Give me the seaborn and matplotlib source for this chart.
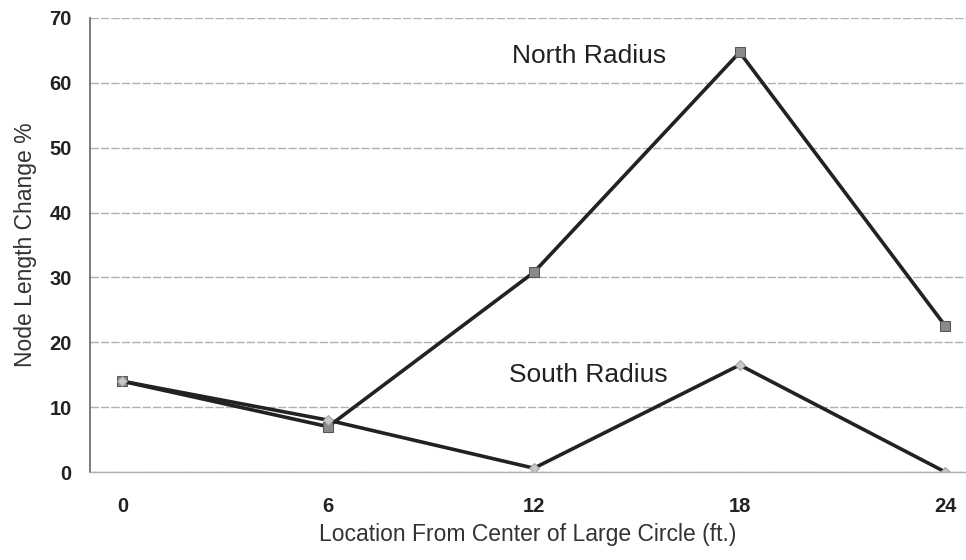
import pandas as pd
import seaborn as sns
import matplotlib.pyplot as plt

LOCATIONS = [0, 6, 12, 18, 24]
NORTH_VALUES = [14.0, 7.0, 30.8, 64.7, 22.5]
SOUTH_VALUES = [14.0, 8.0, 0.6, 16.5, 0.0]
SERIES = ["North Radius", "South Radius"]
Y_TICKS = [0, 10, 20, 30, 40, 50, 60, 70]

df = pd.DataFrame({
    "Location": LOCATIONS * 2,
    "Change": NORTH_VALUES + SOUTH_VALUES,
    "Series": [SERIES[0]] * len(LOCATIONS) + [SERIES[1]] * len(LOCATIONS),
})

sns.set_style("white")
plt.rcParams['font.family'] = ['Liberation Sans', 'DejaVu Sans']

fig = plt.figure(figsize=(9.66, 5.6), dpi=100)
ax = fig.add_axes([0.093, 0.157, 0.907, 0.811])

ax.yaxis.grid(True, color="#b0b0b0", linewidth=1.0, linestyle=(0, (6, 1.5)))
ax.set_axisbelow(True)

sns.lineplot(data=df, x="Location", y="Change", hue="Series", style="Series",
             markers={"North Radius": "s", "South Radius": "D"}, dashes=False,
             palette={"North Radius": "#222222", "South Radius": "#222222"},
             linewidth=2.6, markersize=7, legend=False, ax=ax)

# marker faces
lines = ax.get_lines()
lines[-2].set_markerfacecolor("#8a8a8a")
lines[-2].set_markeredgecolor("#555555")
lines[-1].set_markerfacecolor("#c8c8c8")
lines[-1].set_markeredgecolor("#a0a0a0")
lines[-1].set_markersize(5)

ax.set_xlim(-0.95, 24.6)
ax.set_ylim(0, 70)
ax.set_xticks(LOCATIONS)
ax.set_yticks(Y_TICKS)
ax.tick_params(axis="both", length=0, labelsize=14.5)
ax.tick_params(axis="x", pad=18)
ax.tick_params(axis="y", pad=13)
for lbl in ax.get_xticklabels() + ax.get_yticklabels():
    lbl.set_fontweight("bold")
    lbl.set_color("#222222")

sns.despine(ax=ax, top=True, right=True)
ax.spines["left"].set_color("#666666")
ax.spines["left"].set_linewidth(1.2)
ax.spines["bottom"].set_color("#b0b0b0")
ax.spines["bottom"].set_linewidth(1.0)

ax.set_xlabel("Location From Center of Large Circle (ft.)", fontsize=16.5, color="#333333", labelpad=5)
ax.set_ylabel("Node Length Change %", fontsize=16.5, color="#333333", labelpad=9)

ax.text(13.6, 64.2, "North Radius", fontsize=19, ha="center", va="center", color="#222222")
ax.text(13.6, 15.0, "South Radius", fontsize=19, ha="center", va="center", color="#222222")

plt.savefig("out.png", dpi=100)
